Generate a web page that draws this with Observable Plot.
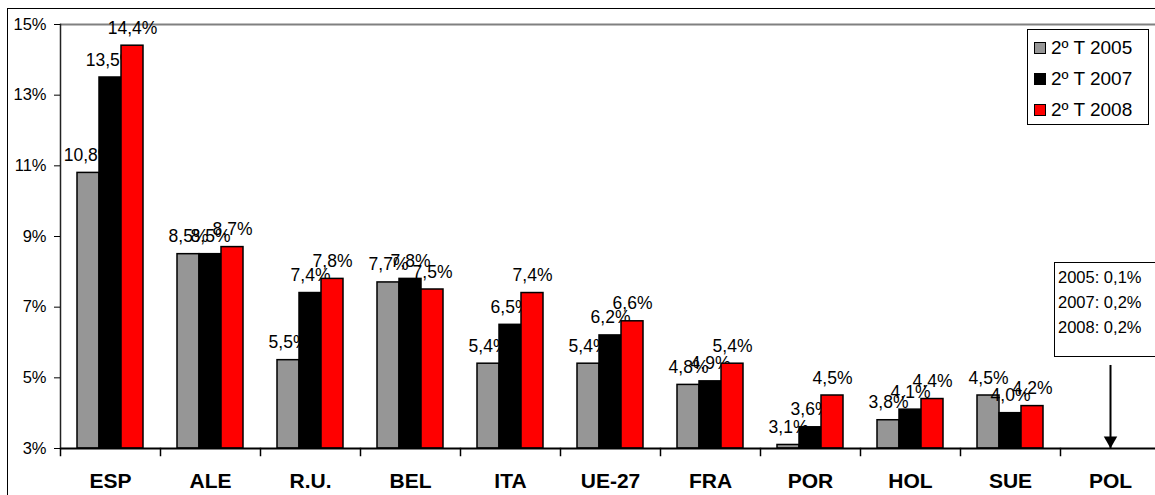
<!DOCTYPE html>
<html><head><meta charset="utf-8">
<script src="https://cdn.jsdelivr.net/npm/d3@7"></script>
<script src="https://cdn.jsdelivr.net/npm/@observablehq/plot@0.6"></script>
<style>
body{margin:0;background:#fff;}
#wrap{position:relative;width:1155px;height:495px;overflow:hidden;font-family:"Liberation Sans",Arial,sans-serif;background:#fff;}
#border{position:absolute;left:7px;top:8px;width:1300px;height:700px;border-left:1.5px solid #000;border-top:1.5px solid #000;pointer-events:none;}
#chart{position:absolute;left:0;top:0;}
#legend{position:absolute;left:1027px;top:29px;width:120px;height:92px;border:1px solid #000;background:#fff;padding-top:2px;box-sizing:content-box;}
#legend .row{height:31px;line-height:31px;font-size:19px;white-space:nowrap;display:flex;align-items:center;}
#legend .sw{display:inline-block;width:12px;height:12px;border:1px solid #000;margin-left:6px;margin-right:5px;box-sizing:border-box;}
#note{position:absolute;left:1054px;top:262px;width:120px;height:91px;border:1.5px solid #000;background:#fff;padding-top:2px;padding-left:3px;}
#note div{height:25px;line-height:25px;font-size:16.5px;white-space:nowrap;}
</style>
</head><body>
<div id="wrap">
  <div id="chart"></div>
  <div id="legend"></div>
  <div id="note"></div>
  <div id="border"></div>
</div>
<script>
const categories = ["ESP","ALE","R.U.","BEL","ITA","UE-27","FRA","POR","HOL","SUE","POL"];
const series = ["2º T 2005","2º T 2007","2º T 2008"];
const values2005 = [10.8,8.5,5.5,7.7,5.4,5.4,4.8,3.1,3.8,4.5,0.1];
const values2007 = [13.5,8.5,7.4,7.8,6.5,6.2,4.9,3.6,4.1,4.0,0.2];
const values2008 = [14.4,8.7,7.8,7.5,7.4,6.6,5.4,4.5,4.4,4.2,0.2];
const yTicks = [3,5,7,9,11,13,15];
const colors = ["#969696","#000000","#ff0000"];
const noteYears = ["2005","2007","2008"];
const polArrow = [{cat:"POL", from:5.35, to:3}];

const seriesValues = [values2005, values2007, values2008];
const rows = [];
categories.forEach((c, ci) => series.forEach((s, si) => rows.push({cat:c, series:s, value:seriesValues[si][ci]})));
const fmt = v => v.toFixed(1).replace(".", ",") + "%";
const baseline = yTicks[0];

const marks = [
  Plot.ruleY([yTicks[yTicks.length-1]], {stroke:"#808080", strokeWidth:2}),
];
series.forEach((s, i) => {
  const d = rows.filter(r => r.series === s && r.value >= baseline);
  marks.push(Plot.barY(d, {fx:"cat", x:"series", y1:baseline, y2:"value", fill:colors[i], stroke:"#000", strokeWidth:1.5}));
  marks.push(Plot.text(d, {fx:"cat", x:"series", y:"value", text:r => fmt(r.value), lineAnchor:"bottom", dy:-12, fontSize:17.5, fill:"#000"}));
});
marks.push(
  Plot.ruleY([baseline], {stroke:"#000", strokeWidth:2}),
  Plot.frame({anchor:"left", fx:() => categories[0], stroke:"#222", strokeWidth:1.5}),
  Plot.frame({anchor:"left", insetTop:424, insetBottom:-7, stroke:"#000", strokeWidth:1.5}),
  Plot.ruleX(polArrow, {fx:"cat", x:() => series[1], y1:"from", y2:"to", stroke:"#000", strokeWidth:2}),
  Plot.dot(polArrow, {fx:"cat", x:() => series[1], y:"to", symbol:"triangle", rotate:180, r:5, dy:-8, fill:"#000", stroke:"none"}),
  Plot.axisY({ticks:yTicks, tickFormat:d => d + "%", tickSize:6, tickPadding:8, fontSize:16.5, label:null}),
  Plot.axisFx({anchor:"bottom", tickSize:0, tickPadding:25, fontSize:21, fontWeight:"bold", label:null})
);

const chart = Plot.plot({
  width:1155, height:495,
  marginLeft:60, marginRight:-5, marginTop:24, marginBottom:47,
  style:{fontFamily:"'Liberation Sans', Arial, sans-serif", color:"#000", background:"transparent", overflow:"visible"},
  fx:{domain:categories, padding:0},
  x:{domain:series, paddingInner:0, paddingOuter:0.75, axis:null},
  y:{domain:[yTicks[0], yTicks[yTicks.length-1]]},
  marks
});
document.getElementById("chart").appendChild(chart);

const legend = d3.select("#legend");
series.forEach((s, i) => {
  const row = legend.append("div").attr("class","row");
  row.append("span").attr("class","sw").style("background", colors[i]);
  row.append("span").text(s);
});
const note = d3.select("#note");
noteYears.forEach((y, i) => note.append("div").text(y + ": " + fmt(seriesValues[i][categories.length-1])));
</script>
</body></html>
